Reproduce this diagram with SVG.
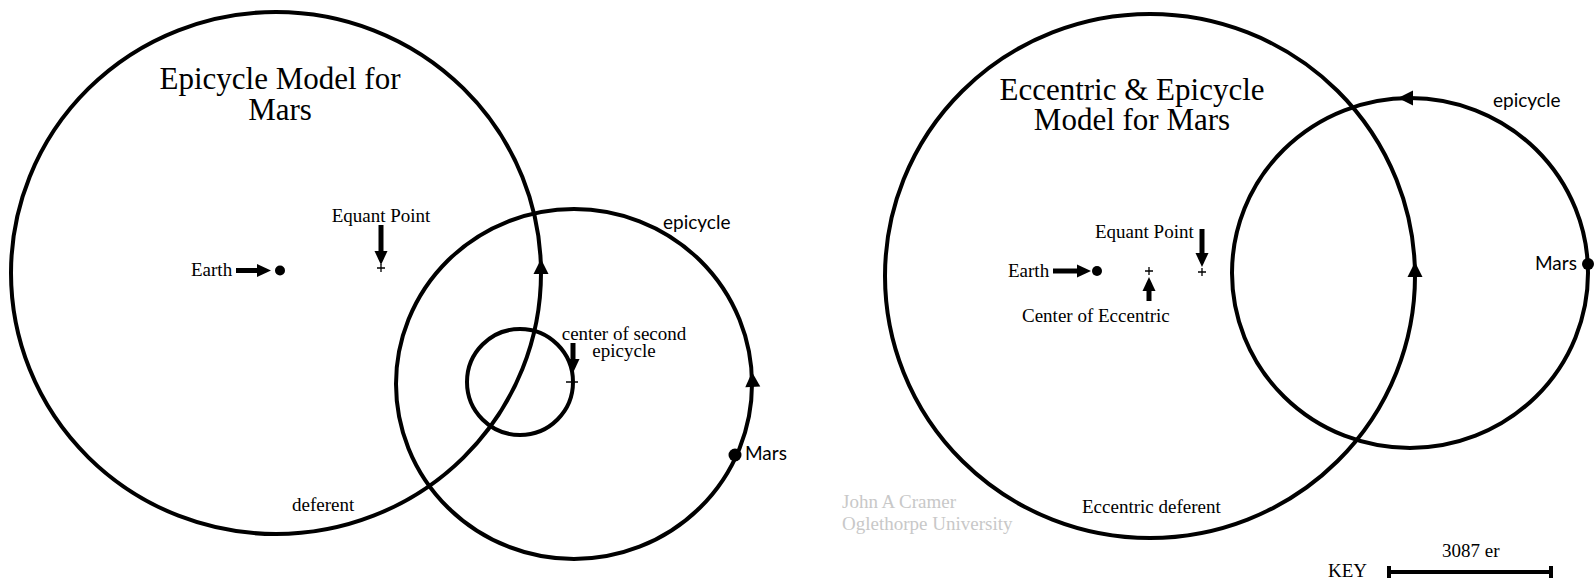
<svg xmlns="http://www.w3.org/2000/svg" width="1594" height="580" viewBox="0 0 1594 580">
  <defs>
    <style>
      .orbit{fill:none;stroke:#000;stroke-width:4}
      .serif{font-family:"Liberation Serif","Times New Roman",serif;fill:#000}
      .title{font-size:31px;text-anchor:middle}
      .lbl{font-size:19px}
      .mid{text-anchor:middle}
      .sans{font-family:Lato,"Open Sans",sans-serif;font-size:19px;fill:#000}
      .shaft{stroke:#000;stroke-width:5;fill:none}
      .credit{fill:#c8c8c8}
      .dot{fill:#000}
    </style>
    <!-- arrowhead with its tip at the origin, pointing along +x -->
    <path id="head" d="M0,0 L-15,-7.5 L-15,7.5 Z" fill="#000"/>
    <path id="phead" d="M0,0 L-14,-6.5 L-14,6.5 Z" fill="#000"/>
    <path id="plus" d="M-4,0 H4 M0,-4 V4" stroke="#000" stroke-width="1.3" fill="none"/>
  </defs>

  <rect width="1594" height="580" fill="#fff"/>

  <!-- ===== Left panel: epicycle model ===== -->
  <g id="left-title">
    <text class="serif title" x="280" y="89">Epicycle Model for</text>
    <text class="serif title" x="280" y="120">Mars</text>
  </g>

  <g id="connectors">
    <!-- orbits -->
    <ellipse id="deferent-left" class="orbit" cx="276" cy="273" rx="265" ry="261"/>
    <ellipse id="epicycle-left" class="orbit" cx="574" cy="384" rx="178" ry="175"/>
    <circle id="second-epicycle" class="orbit" cx="520" cy="382" r="53"/>
    <ellipse id="deferent-right" class="orbit" cx="1150" cy="276" rx="265" ry="262"/>
    <ellipse id="epicycle-right" class="orbit" cx="1410" cy="273" rx="178" ry="175"/>

    <!-- direction of motion on the orbits -->
    <use href="#head" transform="translate(541,259) rotate(-90)"/>
    <use href="#head" transform="translate(752,372) rotate(-93)"/>
    <use href="#head" transform="translate(1415,262) rotate(-90)"/>
    <use href="#head" transform="translate(1398,98) rotate(180)"/>

    <!-- pointer arrows, left panel -->
    <line class="shaft" x1="236" y1="270.5" x2="260" y2="270.5"/>
    <use href="#phead" transform="translate(271,270.5)"/>
    <line class="shaft" x1="381" y1="225" x2="381" y2="253"/>
    <use href="#phead" transform="translate(381,265) rotate(90)"/>
    <line class="shaft" x1="573" y1="343" x2="573" y2="361"/>
    <use href="#phead" transform="translate(573,373) rotate(90)"/>

    <!-- pointer arrows, right panel -->
    <line class="shaft" x1="1053" y1="271" x2="1080" y2="271"/>
    <use href="#phead" transform="translate(1091,271)"/>
    <line class="shaft" x1="1149" y1="301" x2="1149" y2="288"/>
    <use href="#phead" transform="translate(1149,277) rotate(-90)"/>
    <line class="shaft" x1="1202" y1="229" x2="1202" y2="255"/>
    <use href="#phead" transform="translate(1202,267) rotate(90)"/>
  </g>

  <g id="earth-left">
    <circle class="dot" cx="280" cy="270.5" r="5"/>
    <text class="serif lbl" x="191" y="276">Earth</text>
  </g>
  <g id="equant-left">
    <use href="#plus" x="381" y="268"/>
    <text class="serif lbl mid" x="381" y="222">Equant Point</text>
  </g>
  <g id="second-center">
    <path d="M-6,0 H6 M0,-4 V4" transform="translate(572,382)" stroke="#000" stroke-width="1.3" fill="none"/>
    <text class="serif lbl mid" x="624" y="340">center of second</text>
    <text class="serif lbl mid" x="624" y="357">epicycle</text>
  </g>
  <g id="mars-left">
    <circle class="dot" cx="735" cy="455" r="6.5"/>
    <text class="sans" x="745" y="460">Mars</text>
  </g>
  <g id="labels-left">
    <text class="sans" x="663" y="229">epicycle</text>
    <text class="serif lbl" x="292" y="511">deferent</text>
  </g>

  <!-- ===== Right panel: eccentric and epicycle model ===== -->
  <g id="right-title">
    <text class="serif title" x="1132" y="100">Eccentric &amp; Epicycle</text>
    <text class="serif title" x="1132" y="130">Model for Mars</text>
  </g>
  <g id="earth-right">
    <circle class="dot" cx="1097" cy="271" r="5"/>
    <text class="serif lbl" x="1008" y="277">Earth</text>
  </g>
  <g id="eccentric-center">
    <use href="#plus" x="1149" y="271"/>
    <text class="serif lbl" x="1022" y="322">Center of Eccentric</text>
  </g>
  <g id="equant-right">
    <use href="#plus" x="1202" y="272"/>
    <text class="serif lbl" x="1095" y="238">Equant Point</text>
  </g>
  <g id="mars-right">
    <circle class="dot" cx="1588" cy="264" r="6"/>
    <text class="sans" x="1535" y="270">Mars</text>
  </g>
  <g id="labels-right">
    <text class="sans" x="1493" y="107">epicycle</text>
    <text class="serif lbl" x="1082" y="513">Eccentric deferent</text>
  </g>

  <g id="credit">
    <text class="serif lbl credit" x="842" y="508">John A Cramer</text>
    <text class="serif lbl credit" x="842" y="530">Oglethorpe University</text>
  </g>

  <g id="key">
    <text class="serif lbl" x="1328" y="577">KEY</text>
    <text class="serif lbl" x="1442" y="557">3087 er</text>
    <line x1="1389" y1="572" x2="1551" y2="572" stroke="#000" stroke-width="4"/>
    <rect x="1387" y="566" width="4" height="12" fill="#000"/>
    <rect x="1549" y="566" width="4" height="12" fill="#000"/>
  </g>
</svg>
